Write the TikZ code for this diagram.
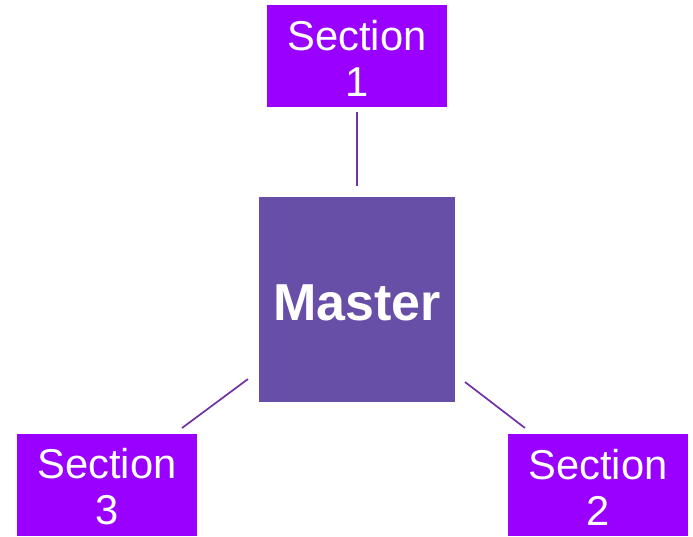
\documentclass[tikz,border=0pt]{standalone}
\usepackage{fontspec}
\setmainfont{Liberation Sans}
\definecolor{secfill}{HTML}{9900FF}
\definecolor{masterfill}{HTML}{674EA7}
\definecolor{linkcol}{HTML}{7030A8}
\newcommand{\lowr}[2]{\raisebox{-#1}[\height][\depth]{#2}}
\begin{document}
\begin{tikzpicture}[x=1pt,y=-1pt,
  secbox/.style={fill=secfill, text=white, inner sep=0pt, minimum width=180pt, minimum height=102pt,
    align=center, font=\fontsize{41.7}{46}\selectfont},
  masterbox/.style={fill=masterfill, text=white, inner sep=0pt, minimum width=196pt, minimum height=205pt,
    font=\fontsize{52}{58}\selectfont\bfseries},
  link/.style={draw=linkcol, line width=1.7pt}]
\useasboundingbox (0,0) rectangle (693,536);
\node[secbox] (s1) at (357,56) {\lowr{2pt}{Section}\\\lowr{2pt}{1}};
\node[masterbox] (master) at (357,299.5) {\lowr{3pt}{Master}};
\node[secbox] (s3) at (107,485) {\lowr{2pt}{Section}\\\lowr{2pt}{3}};
\node[secbox] (s2) at (598,485) {\lowr{2pt}{Section}\\\lowr{2pt}{2}};
\coordinate (s1end) at (357,112);
\coordinate (m1end) at (357,186);
\coordinate (m3end) at (248,379);
\coordinate (s3end) at (182,428);
\coordinate (m2end) at (465,382);
\coordinate (s2end) at (525,428);
\draw[link] (s1end) -- (m1end);
\draw[link] (m3end) -- (s3end);
\draw[link] (m2end) -- (s2end);
\end{tikzpicture}
\end{document}
